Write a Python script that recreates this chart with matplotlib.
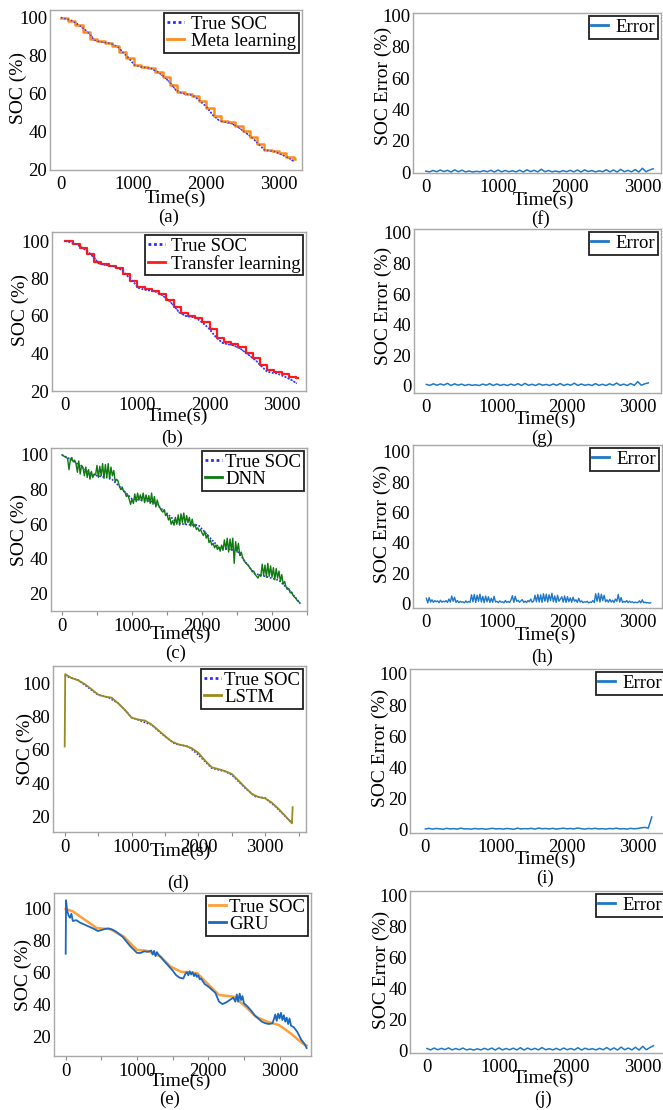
import numpy as np
import matplotlib
matplotlib.use("Agg")
import matplotlib.pyplot as plt
from matplotlib.ticker import MultipleLocator

plt.rcParams['font.family'] = ['Liberation Serif', 'DejaVu Serif']
plt.rcParams['mathtext.fontset'] = 'stix'

# ---------------- data ----------------
# dataset used in (a)/(b)
t_ab = [0, 80, 160, 250, 340, 410, 460, 550, 690, 780, 870, 940, 1010, 1100, 1240, 1330,
        1420, 1510, 1580, 1670, 1810, 1900, 2000, 2090, 2180, 2340, 2430, 2550, 2640, 2730,
        2800, 2940, 3050, 3140, 3210]
soc_ab = [100, 99.2, 98.2, 96, 93.3, 90.7, 88, 87.2, 86.3, 84.6, 81, 78.4, 75, 74, 73.2, 71.4,
          68.8, 65.3, 61.8, 60, 59.1, 56.5, 53, 48.6, 45.6, 44.2, 42.5, 39, 36.3, 32.8,
          30.2, 29.3, 27.5, 25.8, 24]

t_step = [0, 100, 200, 300, 400, 500, 600, 700, 800, 900, 1000, 1100, 1200, 1300, 1400, 1500,
          1600, 1700, 1800, 1900, 2000, 2100, 2200, 2300, 2400, 2500, 2600, 2700, 2800, 2900,
          3000, 3100, 3200, 3220]
meta = [99.6, 98.4, 96, 92.5, 88.8, 87.4, 86.6, 85.2, 82, 78.5, 75, 74, 73.3, 71.5, 68.5, 64.5,
        61, 59.6, 58.8, 56.2, 52.5, 48, 45.6, 44.8, 43, 40, 37, 33.5, 30.4, 29.6,
        28.5, 26.3, 25.5, 25.5]
transfer = [99.8, 98.6, 96.3, 92.8, 89, 87.6, 86.9, 85.5, 82.3, 78.8, 75.3, 74.3, 73.6, 71.8, 68.8, 65,
            61.4, 60, 59.2, 56.6, 53, 48.4, 46, 45.2, 43.5, 40.5, 37.5, 34, 31, 30.2,
            29, 27.3, 27, 27]

# dataset used in (c)
t_c = [0, 150, 300, 450, 700, 850, 1000, 1150, 1300, 1500, 1650, 1800, 1950, 2100, 2250,
       2400, 2500, 2620, 2750, 2900, 3100, 3250, 3400]
soc_c = [100, 97, 92.5, 88.4, 86.5, 80.7, 74.6, 73.8, 73, 66.3, 60.5, 59.8, 59.5, 52.8, 46.4,
         45.5, 45, 38.3, 31.6, 30, 27.7, 21.9, 14.5]
dnn = [100, 99.5, 99, 98.5, 98, 91.5, 97.5, 98.5, 96, 97,
       95, 90, 96.5, 89, 94, 92.5, 88, 93, 87, 91.5,
       86, 90.5, 87, 89, 88.5, 94, 87, 93.5, 88, 95,
       86.5, 94.5, 87, 95, 86, 93, 88, 91, 84.5, 86,
       85, 82, 80, 81.5, 79, 78.5, 76, 77, 74.5, 71.5,
       74.5, 72, 77.5, 73, 78, 74, 77, 73.5, 78, 72.5,
       77, 73, 76.5, 72, 78, 71.5, 76, 70, 74, 71,
       69.5, 68, 67, 68.5, 65, 66, 62.5, 64, 60, 62,
       59.5, 64, 60, 65.5, 59.5, 66, 61, 66.5, 60, 65,
       61, 64, 59, 63, 58.5, 60, 57, 58, 56, 57,
       55, 53.5, 56, 52, 54, 49.5, 51, 48, 49, 46.5,
       48, 45.5, 47, 44.5, 48, 45, 51, 45.5, 52, 44,
       51.5, 45, 52, 37.5, 50, 44, 49, 42, 44, 41,
       39, 38, 37, 36.5, 35, 34, 32.5, 33, 31, 30,
       29, 31, 30, 37, 30.5, 36.5, 29.5, 37.5, 30, 36,
       29.5, 35, 28, 34.5, 29, 33, 27, 31, 25.5, 27,
       24, 22.5, 23, 20.5, 21, 19, 18, 17.5, 16, 15.5, 14.5]
t_dnn = np.arange(len(dnn)) * 20

# dataset used in (d)
t_d = [0, 200, 350, 500, 650, 800, 900, 1000, 1100, 1300, 1500, 1650, 1850, 2000, 2200,
       2400, 2500, 2700, 2850, 3000, 3150, 3300, 3400]
soc_d = [104.5, 102, 97.5, 93, 91.6, 88, 84, 79.5, 78, 75, 68, 63.6, 62, 57, 49,
         47, 45, 37, 32, 31, 26, 20, 16]
t_lstm = [0, 8, 100, 200, 300, 400, 500, 600, 700, 800, 900, 1000, 1100, 1200, 1300, 1400,
          1500, 1600, 1700, 1800, 1900, 2000, 2100, 2200, 2300, 2400, 2500, 2600, 2700, 2800,
          2900, 3000, 3100, 3200, 3300, 3400, 3410]
lstm = [62, 105.5, 103.2, 101.8, 99.5, 96.5, 93.2, 92, 91.4, 88, 84, 79.3, 78.2, 77.6, 75.2, 71.8,
        68.3, 65, 63.3, 62.4, 61, 58.2, 53.5, 49.5, 48.4, 47.2, 45.5, 41.5, 37.4, 33.5,
        31.6, 30.8, 28.2, 24.5, 20.2, 15.8, 25.5]

# dataset used in (e)
t_e = [0, 100, 437, 624, 812, 1000, 1141, 1329, 1469, 1610, 1845, 1986, 2150, 2361, 2526,
       2667, 2831, 2995, 3160, 3324, 3380]
soc_e = [100, 98.5, 88, 87.4, 82.8, 74.4, 73.8, 70.3, 64, 60.8, 59.8, 53.5, 46.2, 45.1, 38.8,
         32.6, 29.4, 27.3, 22, 15.8, 14.5]
t_gru = [0, 5, 20, 40, 60, 80, 100, 150, 200, 300, 400, 450, 500, 550, 600, 650, 700, 800, 900,
         1000, 1050, 1100, 1150, 1200, 1220, 1240, 1260, 1280, 1300, 1350, 1400, 1450, 1500,
         1550, 1600, 1650, 1680, 1700, 1720, 1740, 1760, 1780, 1800, 1820, 1840, 1860, 1880,
         1900, 1950, 2000, 2050, 2100, 2150, 2200, 2250, 2300, 2350, 2380, 2400, 2420, 2440,
         2460, 2480, 2500, 2550, 2600, 2650, 2700, 2750, 2800, 2850, 2900, 2920, 2940, 2960,
         2980, 3000, 3020, 3040, 3060, 3080, 3100, 3120, 3140, 3160, 3200, 3250, 3300, 3350, 3380]
gru = [72, 105.5, 99, 96, 94.5, 97, 92.5, 93, 91.5, 89.5, 87.5, 86.2, 86.8, 87.5, 87.8, 87.2, 86,
       82.5, 77, 72.5, 72.5, 73.5, 73.2, 74, 71.5, 73.8, 70.5, 73, 71.5, 69, 66.5, 64, 61.5,
       58.5, 57, 56.5, 59.5, 60.5, 58.5, 61, 59, 60.5, 58, 59.5, 57.5, 58.5, 56,
       56.5, 53, 51.5, 49.5, 47.5, 42, 40.5, 41.5, 43, 44.5, 42, 46.5, 42, 47,
       43, 45.5, 41, 39, 36.5, 33.5, 31.5, 29.5, 28.5, 28, 28.5, 31, 34, 30,
       34.5, 31.5, 35, 30.5, 33.5, 29.5, 32, 28, 31.5, 27, 26, 23, 18.5, 15.5, 13]

# error curves
t_err50 = np.arange(64) * 50
err_f = [0.8, 0.3, 1.2, 0.4, 1.5, 0.5, 1.3, 0.2, 1.6, 0.4, 1.4, 0.3, 0.9, 0.2, 0.7, 0.3,
         1.1, 0.4, 1.3, 0.2, 1.5, 0.3, 1.2, 0.4, 1.0, 0.3, 1.4, 0.2, 1.6, 0.5, 1.3, 0.3,
         2.0, 0.4, 1.2, 0.3, 0.9, 0.2, 1.1, 0.4, 1.3, 0.3, 1.5, 0.2, 1.6, 0.5, 1.2, 0.3,
         1.0, 0.4, 1.7, 0.3, 1.5, 0.2, 1.9, 0.4, 1.3, 0.3, 1.8, 0.2, 2.6, 0.4, 1.5, 2.3]
err_g = [1.0, 0.4, 1.4, 0.5, 1.3, 0.6, 1.7, 0.3, 1.4, 0.5, 1.2, 0.3, 1.0, 0.4, 0.8, 0.3,
         1.2, 0.5, 1.5, 0.3, 1.3, 0.4, 1.0, 0.3, 1.2, 0.4, 1.5, 0.3, 1.7, 0.4, 1.1, 0.3,
         1.4, 0.5, 1.0, 0.3, 1.3, 0.4, 1.6, 0.3, 1.2, 0.5, 1.8, 0.3, 1.3, 0.4, 1.0, 0.3,
         1.5, 0.4, 1.1, 0.3, 1.4, 0.5, 1.9, 0.4, 1.2, 0.3, 1.6, 0.4, 2.8, 0.5, 1.4, 2.0]
err_h = [3.5, 0.5, 4.0, 1.0, 2.5, 0.8, 2.0, 1.2, 1.8, 0.6,
         2.2, 0.9, 1.6, 1.1, 2.0, 0.7, 3.0, 1.0, 5.0, 1.5,
         4.2, 0.8, 2.0, 0.6, 1.5, 0.9, 1.2, 0.5, 1.8, 0.7,
         1.4, 0.9, 5.8, 1.2, 6.0, 0.8, 5.5, 1.5, 6.2, 1.0,
         4.8, 0.6, 5.0, 1.2, 4.5, 0.8, 3.5, 0.9, 4.8, 1.1,
         1.5, 0.6, 1.8, 0.9, 1.2, 0.5, 2.0, 0.8, 1.4, 0.7,
         2.5, 5.2, 0.8, 4.8, 1.5, 2.2, 0.9, 1.8, 2.6, 0.8,
         1.6, 0.7, 2.0, 1.2, 3.0, 0.9, 1.5, 5.5, 1.2, 6.0,
         1.0, 5.8, 0.8, 6.5, 1.5, 6.2, 1.0, 5.8, 2.0, 6.8,
         1.2, 5.0, 0.8, 5.5, 1.5, 3.0, 4.5, 1.0, 5.0, 0.8,
         4.6, 1.2, 3.8, 0.9, 4.2, 1.5, 2.5, 0.8, 3.5, 1.0,
         1.8, 0.6, 1.2, 0.9, 1.5, 0.5, 1.0, 0.8, 2.0, 0.7,
         6.5, 1.5, 6.8, 1.0, 6.2, 2.0, 5.5, 1.2, 2.5, 0.9,
         2.8, 1.0, 2.2, 0.7, 3.0, 1.5, 6.0, 1.0, 4.0, 0.8,
         1.5, 0.9, 2.0, 0.6, 1.6, 0.8, 1.2, 0.5, 1.0, 0.6,
         0.8, 1.8, 0.5, 2.5, 0.6, 1.0, 0.4, 0.7, 0.3, 0.6]
t_err_h = np.arange(len(err_h)) * 20
err_i = [0.5, 0.9, 0.4, 0.8, 0.6, 0.3, 0.9, 0.5, 0.7, 0.4, 1.0, 0.5, 0.6, 0.4, 0.8, 0.5,
         0.7, 0.3, 0.6, 0.9, 0.5, 0.7, 0.4, 0.8, 0.6, 0.3, 1.0, 0.5, 0.7, 0.6, 0.9, 0.4,
         1.1, 0.6, 0.8, 0.5, 0.9, 0.4, 0.7, 1.0, 0.6, 0.8, 0.5, 1.1, 0.7, 0.4, 0.8, 0.6,
         0.9, 0.5, 0.7, 0.4, 0.8, 0.6, 1.0, 0.5, 0.7, 0.4, 0.9, 0.6, 0.8, 1.2, 1.5, 1.0, 8.2]
t_err_i = list(np.arange(64) * 50) + [3200]
err_j = [1.2, 0.3, 1.5, 0.4, 1.3, 0.5, 1.6, 0.3, 1.2, 0.4, 1.5, 0.3, 0.9, 0.2, 1.0, 0.3,
         1.3, 0.4, 1.5, 0.2, 1.6, 0.3, 1.2, 0.4, 1.4, 0.3, 1.7, 0.2, 1.5, 0.4, 1.3, 0.3,
         1.8, 0.4, 1.1, 0.3, 1.3, 0.2, 1.5, 0.4, 1.2, 0.3, 1.7, 0.2, 1.4, 0.5, 1.1, 0.3,
         1.3, 0.4, 1.8, 0.3, 1.6, 0.2, 2.1, 0.4, 1.5, 0.3, 2.0, 0.2, 2.6, 0.4, 1.8, 3.0]

# ---------------- layout ----------------
W, H = 663, 1110
fig = plt.figure(figsize=(W / 100, H / 100), dpi=100)
FS = 13.5
SPINE = '#a8a8a8'


def add_ax(box):
    x0, y0, x1, y1 = box
    return fig.add_axes([x0 / W, 1 - y1 / H, (x1 - x0) / W, (y1 - y0) / H])


def dress(ax, xlim, ylim, yticks, minor=False):
    ax.set_xlim(xlim)
    ax.set_ylim(ylim)
    ax.set_xticks([0, 1000, 2000, 3000])
    ax.set_yticks(yticks)
    for s in ax.spines.values():
        s.set_color(SPINE)
        s.set_linewidth(1.0)
    ax.tick_params(labelsize=FS, pad=2, color=SPINE)
    ax.tick_params(axis='y', length=0, pad=2)
    if minor:
        ax.xaxis.set_minor_locator(MultipleLocator(500))
        ax.tick_params(axis='x', which='both', length=3, width=0.8, color='#888888')
    else:
        ax.tick_params(axis='x', length=0, pad=4)


def labels(ylabel, ylab_xy, xlab_xy, tag, tag_xy):
    fig.text(ylab_xy[0] / W, 1 - ylab_xy[1] / H, ylabel, rotation=90, ha='center',
             va='center', fontsize=FS + 0.5)
    fig.text(xlab_xy[0] / W, 1 - xlab_xy[1] / H, 'Time(s)', ha='center', va='center',
             fontsize=FS + 0.5)
    fig.text(tag_xy[0] / W, 1 - tag_xy[1] / H, tag, ha='center', va='center',
             fontsize=FS)


def legend(ax, tpad=0.4):
    leg = ax.legend(loc='upper right', fontsize=FS, frameon=True, fancybox=False,
                    edgecolor='#222222', framealpha=1, borderaxespad=0.15,
                    handlelength=0.9, handletextpad=tpad, labelspacing=0.0,
                    borderpad=0.15)
    leg.get_frame().set_linewidth(1.3)
    for ln in leg.get_lines():
        ln.set_linewidth(2.0)
    return leg


TRUE_KW = dict(color='#2a2aff', ls=(0, (1, 1)), lw=1.2)
ERR_C = '#1f78c8'

# (a)
ax = add_ax((50, 10, 302, 170))
ax.plot(t_ab, soc_ab, label='True SOC', **TRUE_KW)
ax.plot(t_step, meta, drawstyle='steps-post', color='#ff8c1a', lw=1.8, label='Meta learning')
ax.plot(t_ab, soc_ab, color='#3a3aff', ls=(0, (1, 1.5)), lw=1.0)
dress(ax, (-150, 3316), (19.6, 104), [20, 40, 60, 80, 100])
legend(ax)
labels('SOC (%)', (18, 88), (175, 198), '(a)', (169, 217))

# (f)
ax = add_ax((413, 13, 661, 173))
ax.plot(t_err50, err_f, color=ERR_C, lw=1.1, label='Error')
dress(ax, (-178, 3258), (-0.4, 101.5), [0, 20, 40, 60, 80, 100])
legend(ax)
labels('SOC Error (%)', (383, 86), (543, 200), '(f)', (541, 219))

# (b)
ax = add_ax((52, 232, 306, 391))
ax.plot(t_ab, soc_ab, label='True SOC', **TRUE_KW)
ax.plot(t_step, transfer, drawstyle='steps-post', color='#ff1a1a', lw=1.6,
        label='Transfer learning')
ax.plot(t_ab, soc_ab, color='#3a3aff', ls=(0, (1, 1.5)), lw=1.0)
dress(ax, (-185, 3337), (20.5, 104.8), [20, 40, 60, 80, 100])
legend(ax, 0.3)
labels('SOC (%)', (20, 310), (177, 416), '(b)', (172, 438))

# (g)
ax = add_ax((414, 229, 661, 393))
ax.plot(t_err50, err_g, color=ERR_C, lw=1.1, label='Error')
dress(ax, (-175, 3330), (-4.6, 102.6), [0, 20, 40, 60, 80, 100])
legend(ax)
labels('SOC Error (%)', (383, 306), (545, 419), '(g)', (542, 438))

# (c)
ax = add_ax((51, 448, 307, 611))
ax.plot(t_c, soc_c, label='True SOC', **TRUE_KW)
ax.plot(t_dnn, dnn, color='#0f7a0f', lw=1.0, label='DNN')
dress(ax, (-157, 3500), (10, 104), [20, 40, 60, 80, 100], minor=True)
legend(ax, 0.2)
labels('SOC (%)', (19, 530), (180, 634), '(c)', (176, 653))

# (h)
ax = add_ax((413, 445, 662, 608))
ax.plot(t_err_h, err_h, color=ERR_C, lw=1.0, label='Error')
dress(ax, (-189, 3340), (-2.9, 104.4), [0, 20, 40, 60, 80, 100])
legend(ax)
labels('SOC Error (%)', (382, 524), (545, 635), '(h)', (542, 657))

# (d)
ax = add_ax((53, 666, 306, 832))
ax.plot(t_d, soc_d, label='True SOC', **TRUE_KW)
ax.plot(t_lstm, lstm, color='#9a8a1e', lw=1.3, label='LSTM')
dress(ax, (-175, 3610), (10.6, 110.4), [20, 40, 60, 80, 100], minor=True)
legend(ax, 0.2)
labels('SOC (%)', (25, 749), (180, 851), '(d)', (178, 883))

# (i)
ax = add_ax((410, 669, 668, 833))
ax.plot(t_err_i, err_i, color=ERR_C, lw=1.1, label='Error')
dress(ax, (-217, 3429), (-2.1, 103.2), [0, 20, 40, 60, 80, 100])
legend(ax)
labels('SOC Error (%)', (380, 748), (545, 859), '(i)', (545, 878))

# (e)
ax = add_ax((54, 893, 311, 1056))
ax.plot(t_e, soc_e, color='#ff9f3a', lw=1.8, label='True SOC')
ax.plot(t_gru, gru, color='#1b68bf', lw=1.3, label='GRU')
dress(ax, (-164, 3441), (8, 110), [20, 40, 60, 80, 100], minor=True)
legend(ax, 0.2)
labels('SOC (%)', (23, 975), (180, 1081), '(e)', (170, 1099))

# (j)
ax = add_ax((410, 891, 668, 1053))
ax.plot(t_err50, err_j, color=ERR_C, lw=1.1, label='Error')
dress(ax, (-236, 3352), (-1.7, 102.8), [0, 20, 40, 60, 80, 100])
legend(ax)
labels('SOC Error (%)', (381, 970), (543, 1078), '(j)', (543, 1099))

fig.savefig('out.png', dpi=100)
